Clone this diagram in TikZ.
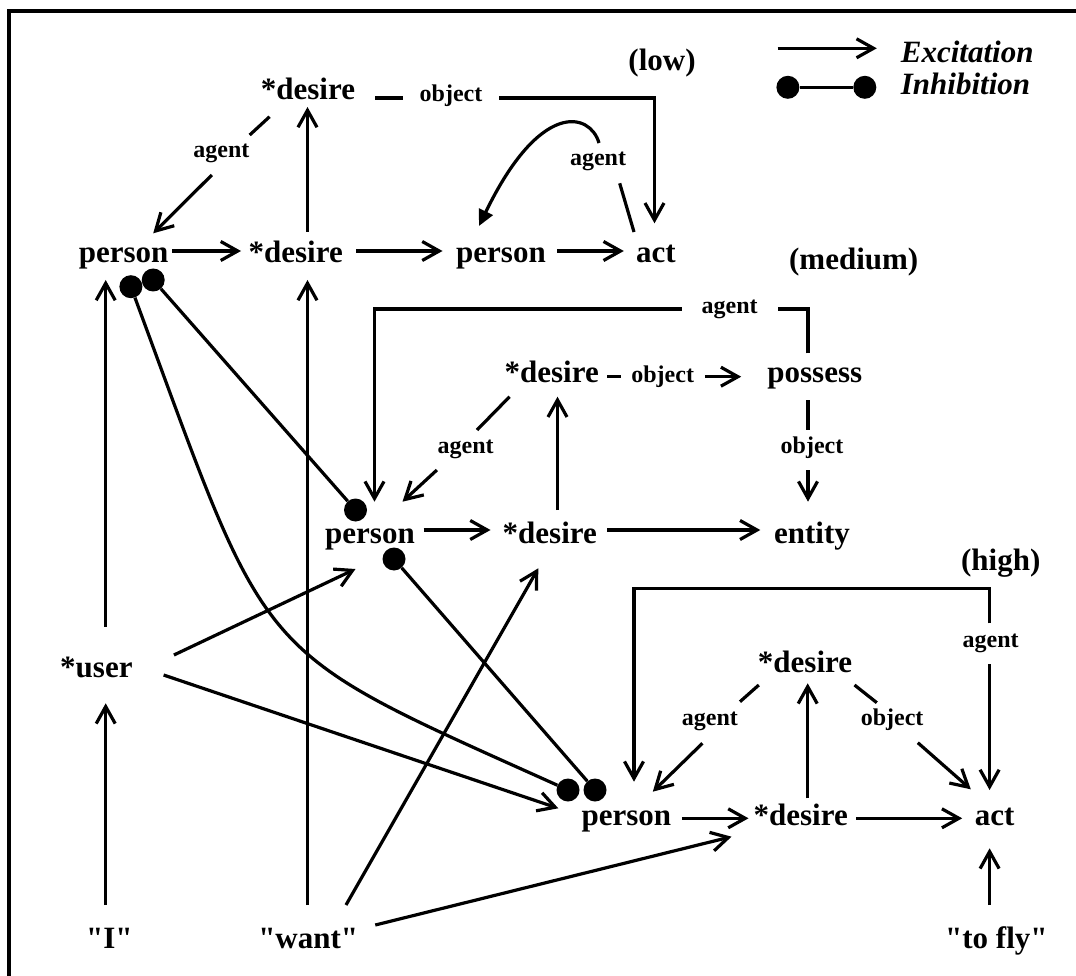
\documentclass[tikz,border=0pt]{standalone}
\usepackage{fontspec}
\setmainfont{Liberation Serif}[Ligatures=TeXOff]
\usetikzlibrary{arrows.meta}
\begin{document}
\begin{tikzpicture}[x=1pt,y=-1pt,
  every node/.style={inner sep=0pt, anchor=base},
  big/.style={font=\fontsize{31}{36}\selectfont\bfseries},
  lab/.style={font=\fontsize{24}{28}\selectfont\bfseries},
  leg/.style={font=\fontsize{31}{36}\selectfont\bfseries\itshape, anchor=base west},
  conn/.style={line width=3.2pt},
  exc/.style={conn, -{Straight Barb[length=17pt,width=19pt]}},
  tri/.style={conn, -{Triangle[length=16pt,width=15pt]}},
  dot/.style={circle, fill=black, minimum size=23pt, inner sep=0pt, anchor=center},
]
\useasboundingbox (0,0) rectangle (1076,976);
% frame
\draw[line width=4pt] (9,976) -- (9,11) -- (1076,11);

% legend
\draw[exc] (777.6,48.3) -- (876.8,48.3);
\node[leg] (ex) at (900.7,62.7) {Excitation};
\node[dot] (ia) at (787.9,87.3) {};
\node[dot] (ib) at (864.8,87.3) {};
\draw[conn] (ia) -- (ib);
\node[leg] (inh) at (900.7,94.3) {Inhibition};

% ---- low ----
\node[big] (low) at (662,71) {(low)};
\node[big] (d1) at (308,100) {*desire};
\node[big] (p1) at (123.6,263) {person};
\node[big] (d2) at (295.7,263) {*desire};
\node[big] (p2) at (501,263) {person};
\node[big] (a1) at (656,263) {act};
\node[lab] (l1) at (221.4,158) {agent};
\node[lab] (l2) at (451,102) {object};
\node[lab] (l3) at (598,166) {agent};

\draw[exc] (172,251) -- (241,251);
\draw[exc] (356,251) -- (442.5,251);
\draw[exc] (557,251) -- (623.8,251);
\draw[exc] (307.5,232) -- (307.5,107);
\draw[conn] (269.6,116.7) -- (249.7,135);
\draw[exc] (211.8,175) -- (153.2,233.3);
\draw[conn] (375.3,98) -- (402.9,98);
\draw[exc] (499.3,98) -- (654.5,98) -- (654.5,223.3);
\draw[conn] (634,232) -- (619.7,183.3);
\draw[tri] (599,143) .. controls (590,112) and (540,100) .. (479,226);

% ---- medium ----
\node[big] (med) at (853.7,270) {(medium)};
\node[big] (d3) at (551.7,382) {*desire};
\node[big] (pos) at (814.8,382) {possess};
\node[big] (p3) at (370,543) {person};
\node[big] (d4) at (549.8,543) {*desire};
\node[big] (ent) at (812,543) {entity};
\node[lab] (l4) at (729.7,313) {agent};
\node[lab] (l5) at (662.7,382) {object};
\node[lab] (l6) at (465.6,453) {agent};
\node[lab] (l7) at (812,453) {object};

\draw[exc] (423.5,530) -- (490.5,530);
\draw[exc] (607,530) -- (760.3,530);
\draw[exc] (557.5,510) -- (557.5,396.7);
\draw[conn] (607.2,376.7) -- (620.6,376.7);
\draw[exc] (704.8,376.7) -- (741.2,376.7);
\draw[conn] (509.6,396.7) -- (477,430);
\draw[exc] (436.9,470) -- (402.5,501.7);
\draw[conn] (808,400) -- (808,430);
\draw[exc] (808,470) -- (808,501.7);
\draw[conn] (808,353.3) -- (808,309) -- (777.6,309);
\draw[exc] (681.9,309) -- (374.5,309) -- (374.5,501.7);

% ---- high ----
\node[big] (high) at (1000.7,570) {(high)};
\node[big] (d5) at (805,672) {*desire};
\node[big] (p4) at (626.3,825) {person};
\node[big] (d6) at (800.7,825) {*desire};
\node[big] (a2) at (994.7,825) {act};
\node[lab] (l8) at (990.6,647) {agent};
\node[lab] (l9) at (709.9,725) {agent};
\node[lab] (l10) at (892.1,725) {object};

\draw[exc] (681.9,818.3) -- (748.5,818.3);
\draw[exc] (856.2,818.3) -- (962.2,818.3);
\draw[exc] (807.7,798.3) -- (807.7,683.3);
\draw[exc] (989.6,623.3) -- (989.6,588.3) -- (634,588.3) -- (634,781.7);
\draw[exc] (989.6,664) -- (989.6,790);
\draw[conn] (758.8,685) -- (740,701.7);
\draw[exc] (702.4,743.3) -- (652.8,791.7);
\draw[conn] (854.5,685) -- (876.8,702.7);
\draw[exc] (917.8,742.7) -- (970.8,789.3);

% ---- inputs ----
\node[big] (usr) at (96.4,677) {*user};
\node[big] (wI) at (109.3,948) {"I"};
\node[big] (want) at (308.2,948) {"want"};
\node[big] (fly) at (996.4,948) {"to fly"};

\draw[exc] (989.6,905) -- (989.6,848.3);
\draw[exc] (105.7,905) -- (105.7,703.3);
\draw[exc] (105.7,626.7) -- (105.7,280);
\draw[exc] (307.5,905) -- (307.5,280);
\draw[exc] (346,905) -- (538.3,568.3);
\draw[exc] (375.3,925) -- (731.5,836.7);
\draw[exc] (173.9,655) -- (355.5,569);
\draw[exc] (163.6,675) -- (558.3,808.3);

% ---- inhibition ----
\node[dot] (i1) at (130.9,286.7) {};
\node[dot] (i2) at (153.2,280) {};
\node[dot] (i3) at (355.5,510) {};
\node[dot] (i4) at (394,559) {};
\node[dot] (i5) at (568,790) {};
\node[dot] (i6) at (595,790) {};
\draw[conn] (i2) -- (i3);
\draw[conn] (i4) -- (i6);
\draw[conn] (i1) .. controls (271.6,667) and (248,646) .. (i5);
\end{tikzpicture}
\end{document}
